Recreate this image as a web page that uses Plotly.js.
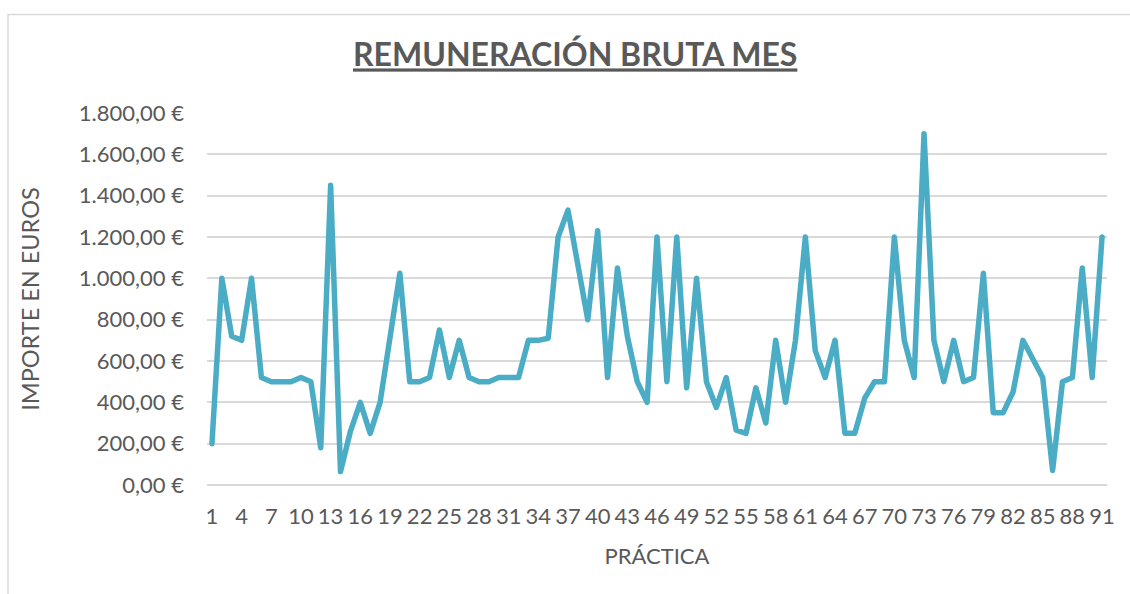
<!DOCTYPE html>
<html>
<head>
<meta charset="utf-8">
<script src="https://cdn.plot.ly/plotly-3.0.1.min.js"></script>
<style>
  html, body { margin: 0; padding: 0; background: #fff; }
  #chart { width: 1130px; height: 594px; }
  .scatterlayer path.js-line { stroke-linejoin: round !important; stroke-linecap: round !important; }
</style>
</head>
<body>
<div id="chart"></div>
<script>
// Práctica numbers 1..91
const practica = [
  1,2,3,4,5,6,7,8,9,10,11,12,13,14,15,16,17,18,19,20,
  21,22,23,24,25,26,27,28,29,30,31,32,33,34,35,36,37,38,39,40,
  41,42,43,44,45,46,47,48,49,50,51,52,53,54,55,56,57,58,59,60,
  61,62,63,64,65,66,67,68,69,70,71,72,73,74,75,76,77,78,79,80,
  81,82,83,84,85,86,87,88,89,90,91
];

// Remuneración bruta mes (€)
const remuneracion = [
  200, 1000, 720, 700, 1000, 520, 500, 500, 500, 520,
  500, 180, 1450, 65, 260, 400, 250, 400, 700, 1025,
  500, 500, 520, 750, 520, 700, 520, 500, 500, 520,
  520, 520, 700, 700, 710, 1200, 1330, 1050, 800, 1230,
  520, 1050, 720, 500, 400, 1200, 500, 1200, 470, 1000,
  500, 375, 520, 265, 250, 470, 300, 700, 400, 700,
  1200, 650, 520, 700, 250, 250, 420, 500, 500, 1200,
  700, 520, 1700, 700, 500, 700, 500, 520, 1025, 350,
  350, 450, 700, 610, 520, 70, 500, 520, 1050, 520,
  1200
];

const xTickVals = [1,4,7,10,13,16,19,22,25,28,31,34,37,40,43,46,49,52,55,58,61,64,67,70,73,76,79,82,85,88,91];
const xTickText = ['1','4','7','10','13','16','19','22','25','28','31','34','37','40','43','46','49','52','55','58','61','64','67','70','73','76','79','82','85','88','91'];

const yTickVals = [0, 200, 400, 600, 800, 1000, 1200, 1400, 1600, 1800];
const yTickText = ['0,00 €','200,00 €','400,00 €','600,00 €','800,00 €','1.000,00 €','1.200,00 €','1.400,00 €','1.600,00 €','1.800,00 €'];

const titleText = '<b><u>REMUNERACIÓN BRUTA MES</u></b>';
const xTitle = 'PRÁCTICA';
const yTitle = 'IMPORTE EN EUROS';

const textColor = '#595959';
const gridColor = '#d9d9d9';
const fontFamily = 'Lato, "Open Sans", sans-serif';

const trace = {
  x: practica,
  y: remuneracion,
  type: 'scatter',
  mode: 'lines',
  line: { color: '#4bacc6', width: 5.5 },
  hoverinfo: 'x+y'
};

const layout = {
  width: 1130,
  height: 594,
  margin: { l: 207, r: 23, t: 113, b: 109 },
  paper_bgcolor: '#ffffff',
  plot_bgcolor: '#ffffff',
  showlegend: false,
  font: { family: fontFamily, color: textColor, size: 22 },
  title: {
    text: titleText,
    font: { family: fontFamily, size: 32, color: textColor },
    xref: 'container', x: 0.509, xanchor: 'center',
    yref: 'container', y: 0.907, yanchor: 'middle'
  },
  xaxis: {
    range: [0.5, 91.5],
    tickmode: 'array',
    tickvals: xTickVals,
    ticktext: xTickText,
    tickangle: 0,
    showgrid: false,
    zeroline: false,
    showline: false,
    ticks: '',
    ticklabelstandoff: 16,
    tickfont: { size: 22, color: textColor },
    title: { text: xTitle, font: { size: 22, color: textColor }, standoff: 20 }
  },
  yaxis: {
    range: [0, 1800],
    tickmode: 'array',
    tickvals: yTickVals,
    ticktext: yTickText,
    showgrid: true,
    gridcolor: gridColor,
    gridwidth: 2,
    zeroline: true,
    zerolinecolor: gridColor,
    zerolinewidth: 2,
    showline: false,
    ticks: '',
    ticklabelstandoff: 22,
    tickfont: { size: 22, color: textColor },
    title: { text: yTitle, font: { size: 23.5, color: textColor }, standoff: 32 }
  },
  shapes: [{
    type: 'rect', xref: 'paper', yref: 'paper',
    x0: -0.2211, x1: 1.05, y0: -0.45, y1: 1.2645,
    line: { color: gridColor, width: 1.5 },
    fillcolor: 'rgba(0,0,0,0)',
    layer: 'below'
  }]
};

Plotly.newPlot('chart', [trace], layout, { displayModeBar: false, staticPlot: true });
</script>
</body>
</html>
